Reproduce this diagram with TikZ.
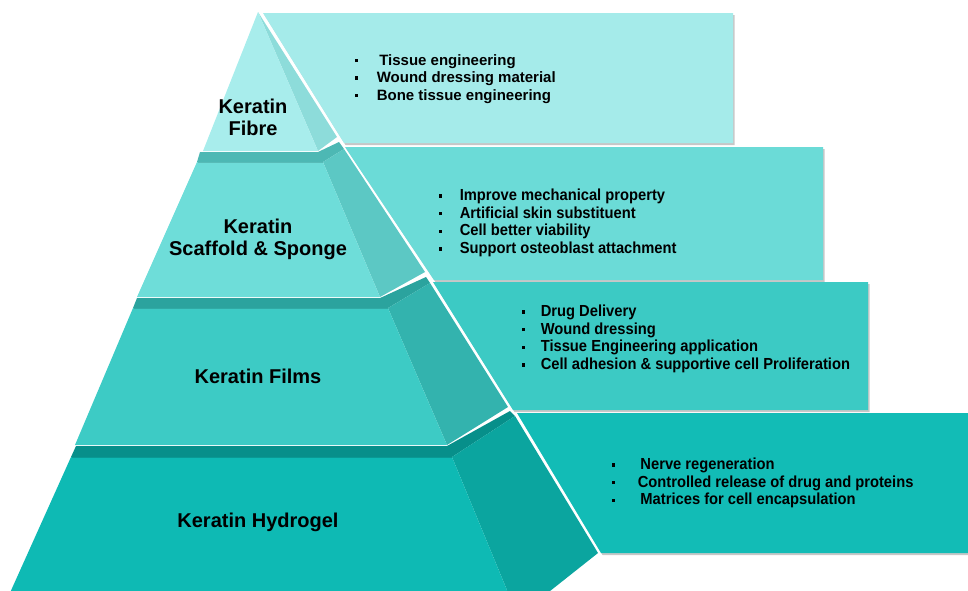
\documentclass[tikz,border=0pt]{standalone}
\usepackage{fontspec}
\setmainfont{Liberation Sans}
\newfontfamily\narrowfont[FakeStretch=0.92]{Liberation Sans}
\definecolor{boxA}{HTML}{A5EBEA}
\definecolor{boxB}{HTML}{6BDBD7}
\definecolor{boxC}{HTML}{3CCAC4}
\definecolor{boxD}{HTML}{12BCB6}
\definecolor{frontA}{HTML}{A8EDEC}
\definecolor{sideA}{HTML}{8DDCDA}
\definecolor{frontB}{HTML}{6EDDD9}
\definecolor{sideB}{HTML}{5CC8C4}
\definecolor{ledgeB}{HTML}{4DB8B4}
\definecolor{frontC}{HTML}{3DCBC5}
\definecolor{sideC}{HTML}{33B3AE}
\definecolor{ledgeC}{HTML}{2BA39E}
\definecolor{frontD}{HTML}{0EBAB4}
\definecolor{sideD}{HTML}{0BA59F}
\definecolor{ledgeD}{HTML}{078F8A}
\newcommand{\blt}{\rule[3pt]{2.6pt}{3.2pt}}
\begin{document}
\begin{tikzpicture}[x=1pt,y=-1pt,
  boxshadow/.style={fill=black,opacity=0.22,shift={(1.5,2)}},
  lbl/.style={font=\fontsize{20}{22}\selectfont\bfseries,align=center,inner sep=0pt,text=black},
  lstA/.style={anchor=base west,inner sep=0pt,font=\fontsize{15}{17.6}\selectfont\bfseries},
  lstB/.style={anchor=base west,inner sep=0pt,font=\narrowfont\bfseries\fontsize{16}{17.7}\selectfont}]
\useasboundingbox (0,0) rectangle (968,590);
\clip (0,0) rectangle (968,590);
% description boxes
\fill[boxshadow] (263,13) -- (733,13) -- (733,143) -- (344,143) -- cycle;
\fill[boxA] (263,13) -- (733,13) -- (733,143) -- (344,143) -- cycle;
\fill[boxshadow] (345,147) -- (823,147) -- (823,280) -- (434,280) -- cycle;
\fill[boxB] (345,147) -- (823,147) -- (823,280) -- (434,280) -- cycle;
\fill[boxshadow] (433,282) -- (868,282) -- (868,410) -- (513,410) -- cycle;
\fill[boxC] (433,282) -- (868,282) -- (868,410) -- (513,410) -- cycle;
\fill[boxshadow] (517,413) -- (975,413) -- (975,553) -- (601,553) -- cycle;
\fill[boxD] (517,413) -- (975,413) -- (975,553) -- (601,553) -- cycle;
% level 4
\fill[ledgeD] (71,457) -- (452,457) -- (515,416) -- (510,411) -- (447,446) -- (76,446) -- cycle;
\fill[sideD] (452,457) -- (515,416) -- (598,553) -- (545,595) -- (509,595) -- cycle;
\fill[frontD] (71,457) -- (452,457) -- (509,595) -- (9,595) -- cycle;
\draw[ledgeD!85!black,line width=0.8pt,opacity=0.5] (72,457.6) -- (452,457.6);
% level 3
\fill[ledgeC] (133,308) -- (388,308) -- (430,283) -- (426,277) -- (380,298) -- (137,298) -- cycle;
\fill[sideC] (388,308) -- (430,283) -- (508,407) -- (447,445) -- cycle;
\fill[frontC] (133,308) -- (388,308) -- (447,445) -- (75,445) -- cycle;
\draw[ledgeC!85!black,line width=0.8pt,opacity=0.5] (134,308.6) -- (388,308.6);
% level 2
\fill[ledgeB] (197,162) -- (323,162) -- (344,149) -- (339,142) -- (318,152) -- (200,152) -- cycle;
\fill[sideB] (323,162) -- (344,149) -- (425,272) -- (380,297) -- cycle;
\fill[frontB] (197,162) -- (323,162) -- (380,297) -- (137,297) -- cycle;
\draw[ledgeB!85!black,line width=0.8pt,opacity=0.5] (198,162.6) -- (323,162.6);
% level 1
\fill[sideA] (258,12) -- (318,151) -- (337,137) -- cycle;
\fill[frontA] (258,12) -- (203,151) -- (318,151) -- cycle;
% labels
\node[lbl] (lab1) at (253,117) {Keratin\\Fibre};
\node[lbl] (lab2) at (258,239) {Keratin\\Scaffold \& Sponge};
\node[lbl] (lab3) at (258,376) {Keratin Films};
\node[lbl] (lab4) at (258,522) {Keratin Hydrogel};
% lists
\node[lstA] (list1) at (355,65) {\begin{tabular}[t]{@{}l@{\hspace{19pt}}l@{}}
\blt & \,Tissue engineering\\
\blt & Wound dressing material\\
\blt & Bone tissue engineering
\end{tabular}};
\node[lstB] (list2) at (439,200.5) {\begin{tabular}[t]{@{}l@{\hspace{18pt}}l@{}}
\blt & Improve mechanical property\\
\blt & Artificial skin substituent\\
\blt & Cell better viability\\
\blt & Support osteoblast attachment
\end{tabular}};
\node[lstB] (list3) at (522,316.5) {\begin{tabular}[t]{@{}l@{\hspace{16pt}}l@{}}
\blt & Drug Delivery\\
\blt & Wound dressing\\
\blt & Tissue Engineering application\\
\blt & Cell adhesion \& supportive cell Proliferation
\end{tabular}};
\node[lstB] (list4) at (612,469.5) {\begin{tabular}[t]{@{}l@{\hspace{23pt}}l@{}}
\blt & \,Nerve regeneration\\
\blt & Controlled release of drug and proteins\\
\blt & \,Matrices for cell encapsulation
\end{tabular}};
\end{tikzpicture}
\end{document}
